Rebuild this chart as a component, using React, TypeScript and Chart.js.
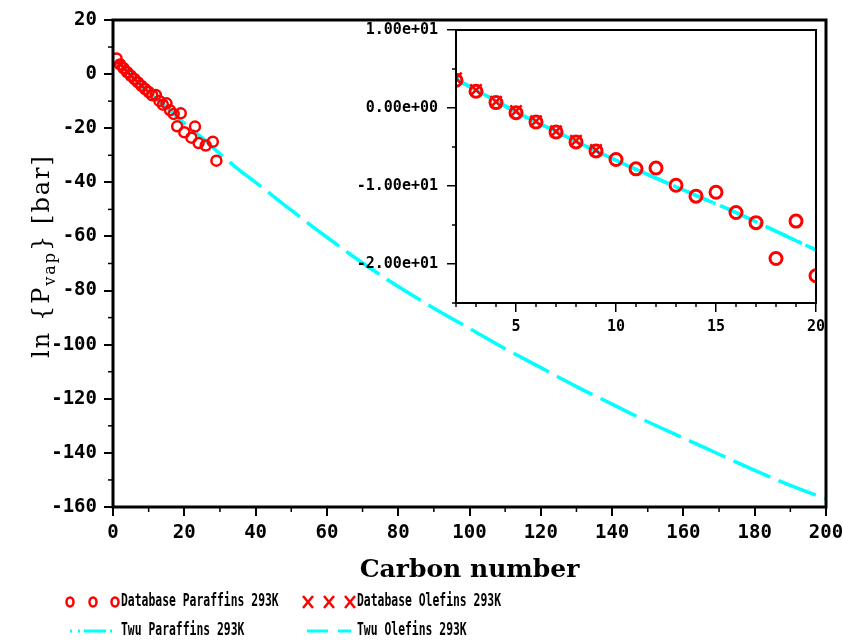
import React, { useEffect, useRef } from 'react';
import { Chart, registerables } from 'chart.js';

Chart.register(...registerables);

// ---------- data ----------
const paraffinCarbon = [1, 2, 3, 4, 5, 6, 7, 8, 9, 10, 11, 12, 13, 14, 15, 16, 17, 18, 19, 20, 22, 23, 24, 26, 28, 29];
const paraffinLnP = [5.8, 3.55, 2.14, 0.69, -0.6, -1.8, -3.07, -4.35, -5.5, -6.6, -7.8, -7.7, -9.9, -11.3, -10.8, -13.4, -14.7, -19.3, -14.5, -21.5, -23.5, -19.4, -25.5, -26.4, -25.0, -32.0];

const olefinCarbon = [2, 3, 4, 5, 6, 7, 8, 9];
const olefinLnP = [3.8, 2.3, 0.8, -0.4, -1.7, -3.0, -4.2, -5.4];

const twuParaffinCarbon = [2, 3, 4, 5, 6, 7, 8, 9, 10, 11, 12, 13, 14, 15, 16, 17, 18, 19, 20];
const twuParaffinLnP = [3.7, 2.3, 0.9, -0.5, -1.8, -3.0, -4.3, -5.5, -6.7, -7.9, -9.0, -10.1, -11.2, -12.3, -13.4, -14.6, -15.8, -17.0, -18.2];

const twuOlefinCarbon = [2, 3, 4, 5, 6, 7, 8, 9, 10, 12, 14, 16, 18, 20, 25, 30, 35, 40, 50, 60, 70, 80, 90, 100, 110, 120, 130, 140, 150, 160, 170, 180, 190, 200];
const twuOlefinLnP = [3.7, 2.3, 0.9, -0.5, -1.8, -3.0, -4.3, -5.5, -6.7, -9.0, -11.2, -13.4, -15.8, -18.2, -23.5, -29.5, -35.0, -40.0, -50.3, -60.3, -69.8, -78.5, -86.5, -94.0, -101.5, -108.5, -115.5, -122.0, -128.5, -134.5, -140.5, -146.5, -152.0, -157.0];

const legendLabels = ['Database Paraffins 293K', 'Database Olefins 293K', 'Twu Paraffins 293K', 'Twu Olefins 293K'];

const mainXMinor = [10, 30, 50, 70, 90, 110, 130, 150, 170, 190];
const mainYMinor = [10, -10, -30, -50, -70, -90, -110, -130, -150];
const insetXMajor = [5, 10, 15, 20];
const insetXMinor = [2, 3, 4, 6, 7, 8, 9, 11, 12, 13, 14, 16, 17, 18, 19];
const insetYMajor = [-20, -10, 0, 10];
const insetYMinor = [-25, -15, -5, 5];

const RED = '#ff0000';
const CYAN = '#00ffff';
const OLEFIN_DASH = [40, 9];
const PARAFFIN_DASH = [22, 5, 3, 5, 3, 5];

const pts = (xs: number[], ys: number[]) => xs.map((x, i) => ({ x, y: ys[i] }));

function fmtExp(v: number): string {
  if (v === 0) return '0.00e+00';
  const sign = v < 0 ? '-' : '';
  const a = Math.abs(v);
  const e = Math.floor(Math.log10(a) + 1e-9);
  const m = a / Math.pow(10, e);
  const es = (e < 0 ? '-' : '+') + String(Math.abs(e)).padStart(2, '0');
  return sign + m.toFixed(2) + 'e' + es;
}

function makeDatasets(inset: boolean) {
  return [
    {
      label: legendLabels[0],
      data: pts(paraffinCarbon, paraffinLnP),
      showLine: false,
      pointStyle: 'circle',
      pointRadius: inset ? 6 : 5,
      pointBorderWidth: inset ? 3 : 2.5,
      pointBorderColor: RED,
      pointBackgroundColor: 'rgba(0,0,0,0)',
      borderColor: RED,
    },
    {
      label: legendLabels[1],
      data: pts(olefinCarbon, olefinLnP),
      showLine: false,
      pointStyle: 'crossRot',
      pointRadius: inset ? 8 : 5.5,
      pointBorderWidth: 2.5,
      pointBorderColor: RED,
      borderColor: RED,
    },
    {
      label: legendLabels[2],
      data: pts(twuParaffinCarbon, twuParaffinLnP),
      showLine: true,
      pointRadius: 0,
      borderColor: CYAN,
      borderWidth: 3.5,
      borderDash: PARAFFIN_DASH,
      cubicInterpolationMode: 'monotone',
    },
    {
      label: legendLabels[3],
      data: pts(twuOlefinCarbon, twuOlefinLnP),
      showLine: true,
      pointRadius: 0,
      borderColor: CYAN,
      borderWidth: 3.5,
      borderDash: OLEFIN_DASH,
      cubicInterpolationMode: 'monotone',
    },
  ];
}

const MONO = '"DejaVu Sans Mono", monospace';
const SERIF = '"DejaVu Serif", serif';

function line(ctx: CanvasRenderingContext2D, x1: number, y1: number, x2: number, y2: number) {
  ctx.beginPath();
  ctx.moveTo(x1, y1);
  ctx.lineTo(x2, y2);
  ctx.stroke();
}

const noPad = (s: any) => {
  s.paddingLeft = 0;
  s.paddingRight = 0;
  s.paddingTop = 0;
  s.paddingBottom = 0;
};

const mainDecor = {
  id: 'mainDecor',
  afterDraw(chart: any) {
    const { ctx, chartArea: a, scales } = chart;
    ctx.save();
    ctx.strokeStyle = '#000';
    ctx.lineWidth = 3;
    ctx.strokeRect(a.left, a.top, a.right - a.left, a.bottom - a.top);
    ctx.lineWidth = 1.5;
    for (const v of mainXMinor) {
      const px = scales.x.getPixelForValue(v);
      line(ctx, px, a.bottom, px, a.bottom + 5);
    }
    for (const v of mainYMinor) {
      const py = scales.y.getPixelForValue(v);
      line(ctx, a.left - 5, py, a.left, py);
    }
    // x title
    ctx.fillStyle = '#000';
    ctx.font = `bold 25px ${SERIF}`;
    ctx.textAlign = 'center';
    ctx.textBaseline = 'alphabetic';
    ctx.fillText('Carbon number', (a.left + a.right) / 2, 577);
    // y title with subscript
    ctx.save();
    ctx.translate(49, 256);
    ctx.rotate(-Math.PI / 2);
    ctx.textAlign = 'left';
    (ctx as any).letterSpacing = '2px';
    const big = `24px ${SERIF}`;
    const small = `16px ${SERIF}`;
    const p1 = 'ln {P';
    const p2 = 'vap';
    const p3 = '} [bar]';
    ctx.font = big;
    const w1 = ctx.measureText(p1).width;
    const w3 = ctx.measureText(p3).width;
    ctx.font = small;
    const w2 = ctx.measureText(p2).width;
    let x = -(w1 + w2 + w3) / 2;
    ctx.font = big;
    ctx.fillText(p1, x, 0);
    x += w1;
    ctx.font = small;
    ctx.fillText(p2, x, 6);
    x += w2;
    ctx.font = big;
    ctx.fillText(p3, x, 0);
    ctx.restore();

    // legend
    const row1 = 602;
    const row2 = 631;
    ctx.strokeStyle = RED;
    ctx.lineWidth = 2.5;
    for (const cx of [70, 93, 115]) {
      ctx.beginPath();
      ctx.ellipse(cx, row1, 3.5, 4.5, 0, 0, Math.PI * 2);
      ctx.stroke();
    }
    for (const cx of [308, 329, 350]) {
      line(ctx, cx - 5, row1 - 6, cx + 5, row1 + 6);
      line(ctx, cx - 5, row1 + 6, cx + 5, row1 - 6);
    }
    ctx.strokeStyle = CYAN;
    ctx.lineWidth = 3;
    ctx.setLineDash([2, 6, 2, 4, 22, 4, 2, 4, 2, 4]);
    line(ctx, 70, row2, 116, row2);
    ctx.setLineDash([21, 10]);
    line(ctx, 307, row2, 351, row2);
    ctx.setLineDash([]);

    ctx.fillStyle = '#000';
    ctx.font = `bold 17px ${MONO}`;
    ctx.textBaseline = 'middle';
    ctx.textAlign = 'left';
    const drawCompressed = (t: string, tx: number, ty: number) => {
      ctx.save();
      ctx.translate(tx, ty);
      ctx.scale(0.67, 1);
      ctx.fillText(t, 0, 0);
      ctx.restore();
    };
    drawCompressed(legendLabels[0], 121, row1);
    drawCompressed(legendLabels[1], 357, row1);
    drawCompressed(legendLabels[2], 121, row2);
    drawCompressed(legendLabels[3], 357, row2);
    ctx.restore();
  },
};

const insetDecor = {
  id: 'insetDecor',
  afterDraw(chart: any) {
    const { ctx, chartArea: a, scales } = chart;
    ctx.save();
    ctx.strokeStyle = '#000';
    ctx.lineWidth = 2;
    ctx.strokeRect(a.left, a.top, a.right - a.left, a.bottom - a.top);
    ctx.lineWidth = 1.5;
    for (const v of insetXMinor) {
      const px = scales.x.getPixelForValue(v);
      line(ctx, px, a.bottom, px, a.bottom + 4);
    }
    for (const v of insetYMinor) {
      const py = scales.y.getPixelForValue(v);
      line(ctx, a.left - 4, py, a.left, py);
    }
    ctx.restore();
  },
};

export default function App() {
  const mainRef = useRef<HTMLCanvasElement | null>(null);
  const insetRef = useRef<HTMLCanvasElement | null>(null);

  useEffect(() => {
    const mainTickFont = { family: MONO, size: 19, weight: 'bold' as const };
    const insetTickFont = { family: MONO, size: 15, weight: 'bold' as const };

    const main = new Chart(mainRef.current as HTMLCanvasElement, {
      type: 'scatter',
      data: { datasets: makeDatasets(false) as any },
      plugins: [mainDecor],
      options: {
        animation: false,
        responsive: false,
        maintainAspectRatio: false,
        layout: { padding: { left: 0, right: 17, top: 20, bottom: 93 } },
        plugins: { legend: { display: false }, tooltip: { enabled: false } },
        scales: {
          x: {
            type: 'linear',
            min: 0,
            max: 200,
            afterFit: (s: any) => { s.height = 40; noPad(s); },
            ticks: { stepSize: 20, font: mainTickFont, color: '#000', padding: 6, maxRotation: 0, autoSkip: false },
            grid: { display: true, drawOnChartArea: false, tickLength: 9, color: '#000', lineWidth: 2 },
            border: { display: false },
          },
          y: {
            type: 'linear',
            min: -160,
            max: 20,
            afterFit: (s: any) => { s.width = 113; noPad(s); },
            ticks: { stepSize: 20, font: mainTickFont, color: '#000', padding: 7, autoSkip: false },
            grid: { display: true, drawOnChartArea: false, tickLength: 9, color: '#000', lineWidth: 2 },
            border: { display: false },
          },
        },
      } as any,
    });

    const inset = new Chart(insetRef.current as HTMLCanvasElement, {
      type: 'scatter',
      data: { datasets: makeDatasets(true) as any },
      plugins: [insetDecor],
      options: {
        animation: false,
        responsive: false,
        maintainAspectRatio: false,
        layout: { padding: { left: 0, right: 24, top: 30, bottom: 7 } },
        plugins: { legend: { display: false }, tooltip: { enabled: false } },
        scales: {
          x: {
            type: 'linear',
            min: 2,
            max: 20,
            afterFit: (s: any) => { s.height = 30; noPad(s); },
            afterBuildTicks: (s: any) => { s.ticks = insetXMajor.map((v) => ({ value: v })); },
            ticks: { font: insetTickFont, color: '#000', padding: 6, maxRotation: 0, autoSkip: false },
            grid: { display: true, drawOnChartArea: false, tickLength: 9, color: '#000', lineWidth: 1.5 },
            border: { display: false },
          },
          y: {
            type: 'linear',
            min: -25,
            max: 10,
            afterFit: (s: any) => { s.width = 116; noPad(s); },
            afterBuildTicks: (s: any) => { s.ticks = insetYMajor.map((v) => ({ value: v })); },
            ticks: { font: insetTickFont, color: '#000', padding: 9, autoSkip: false, callback: (v: any) => fmtExp(Number(v)) },
            grid: { display: true, drawOnChartArea: false, tickLength: 9, color: '#000', lineWidth: 1.5 },
            border: { display: false },
          },
        },
      } as any,
    });

    return () => {
      main.destroy();
      inset.destroy();
    };
  }, []);

  return (
    <div style={{ position: 'fixed', left: 0, top: 0, width: 843, height: 640, background: '#fff' }}>
      <canvas ref={mainRef} width={843} height={640} style={{ position: 'absolute', left: 0, top: 0, width: 843, height: 640 }} />
      <canvas ref={insetRef} width={500} height={340} style={{ position: 'absolute', left: 340, top: 0, width: 500, height: 340 }} />
    </div>
  );
}
